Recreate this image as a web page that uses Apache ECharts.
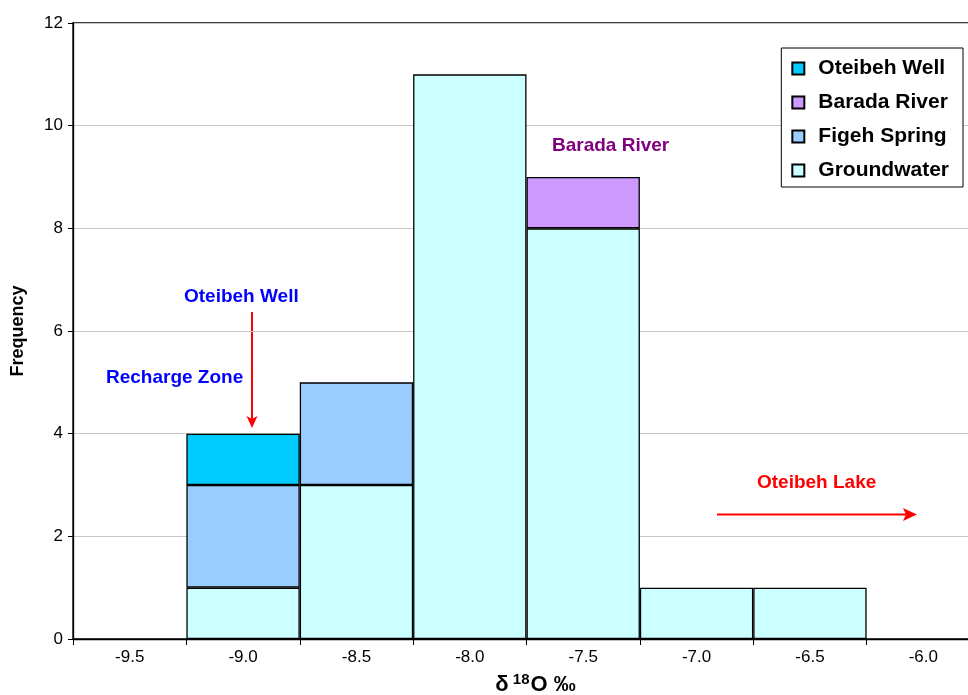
<!DOCTYPE html>
<html>
<head>
<meta charset="utf-8">
<script src="https://cdn.jsdelivr.net/npm/echarts@6/dist/echarts.min.js"></script>
<style>
  html, body { margin: 0; padding: 0; background: #fff; }
  #chart { width: 968px; height: 695px; }
</style>
</head>
<body>
<div id="chart"></div>
<script>
// δ18O bins (‰) and frequency of samples per source
const bins = ['-9.5', '-9.0', '-8.5', '-8.0', '-7.5', '-7.0', '-6.5', '-6.0'];
const groundwater = [0, 1, 3, 11, 8, 1, 1, 0];
const figehSpring = [0, 2, 2, 0, 0, 0, 0, 0];
const baradaRiver = [0, 0, 0, 0, 1, 0, 0, 0];
const oteibehWell = [0, 1, 0, 0, 0, 0, 0, 0];
const yTicks = { min: 0, max: 12, step: 2 };

const FONT = 'Liberation Sans, Arial, sans-serif';

function stackSeries(name, data, color) {
  return {
    name: name,
    type: 'bar',
    stack: 'freq',
    data: data.map(v => (v === 0 ? null : v)),
    barWidth: '100%',
    itemStyle: { color: color, borderColor: '#000', borderWidth: 1.3 },
    emphasis: { disabled: true }
  };
}

function note(text, x, y, color) {
  return {
    type: 'text', x: x, y: y,
    style: { text: text, fill: color, font: 'bold 19px ' + FONT, verticalAlign: 'middle' }
  };
}

const chart = echarts.init(document.getElementById('chart'), null, { renderer: 'canvas' });

chart.setOption({
  animation: false,
  backgroundColor: '#fff',
  textStyle: { fontFamily: FONT },
  grid: {
    left: 73, top: 23, right: -12, bottom: 56,
    outerBoundsMode: 'none',
    containLabel: false,
    show: true, borderColor: '#000', borderWidth: 1.3, backgroundColor: 'transparent'
  },
  legend: {
    orient: 'vertical',
    right: 5,
    top: 48,
    backgroundColor: '#fff',
    borderColor: '#000',
    borderWidth: 1,
    padding: [10, 14, 6, 10],
    itemGap: 13,
    itemWidth: 12,
    itemHeight: 12,
    icon: 'rect',
    data: ['Oteibeh Well', 'Barada River', 'Figeh Spring', 'Groundwater'],
    textStyle: { fontFamily: FONT, fontSize: 21, fontWeight: 'bold', color: '#000', padding: [0, 0, 0, 9] }
  },
  xAxis: {
    type: 'category',
    data: bins,
    boundaryGap: true,
    axisLine: { lineStyle: { color: '#000', width: 1.3 } },
    axisTick: { show: true, length: 6, lineStyle: { color: '#000' } },
    axisLabel: { fontFamily: FONT, fontSize: 17, color: '#000', margin: 10 },
    name: '{a|δ}{s| 18}{a|O ‰}',
    nameLocation: 'middle',
    nameGap: 33,
    nameTextStyle: {
      padding: [0, 0, 0, 18],
      rich: {
        a: { fontFamily: FONT, fontSize: 22, fontWeight: 'bold', color: '#000' },
        s: { fontFamily: FONT, fontSize: 15, fontWeight: 'bold', color: '#000', padding: [0, 1, 10, 0] }
      }
    }
  },
  yAxis: {
    type: 'value',
    min: yTicks.min,
    max: yTicks.max,
    interval: yTicks.step,
    axisLine: { show: true, lineStyle: { color: '#000', width: 1.3 } },
    axisTick: { show: true, length: 5, lineStyle: { color: '#000' } },
    axisLabel: { fontFamily: FONT, fontSize: 17, color: '#000', margin: 10 },
    splitLine: { lineStyle: { color: '#c6c6c6', width: 1 } },
    name: 'Frequency',
    nameLocation: 'middle',
    nameGap: 46,
    nameTextStyle: { fontFamily: FONT, fontSize: 18, fontWeight: 'bold', color: '#000' }
  },
  series: [
    stackSeries('Groundwater', groundwater, '#ccffff'),
    stackSeries('Figeh Spring', figehSpring, '#99ccff'),
    stackSeries('Barada River', baradaRiver, '#cc99ff'),
    stackSeries('Oteibeh Well', oteibehWell, '#00ccff')
  ],
  graphic: [
    note('Barada River', 552, 146, '#800080'),
    note('Oteibeh Well', 184, 297, '#0000ff'),
    note('Recharge Zone', 106, 378, '#0000ff'),
    note('Oteibeh Lake', 757, 483, '#ff0000'),
    { type: 'line', shape: { x1: 252, y1: 312, x2: 252, y2: 420 }, style: { stroke: '#ff0000', lineWidth: 2 } },
    { type: 'polygon', shape: { points: [[246.5, 416], [252, 428], [257.5, 416], [252, 419]] }, style: { fill: '#ff0000' } },
    { type: 'line', shape: { x1: 717, y1: 514.5, x2: 909, y2: 514.5 }, style: { stroke: '#ff0000', lineWidth: 2 } },
    { type: 'polygon', shape: { points: [[903, 508], [917, 514.5], [903, 521], [906, 514.5]] }, style: { fill: '#ff0000' } }
  ]
});
</script>
</body>
</html>
